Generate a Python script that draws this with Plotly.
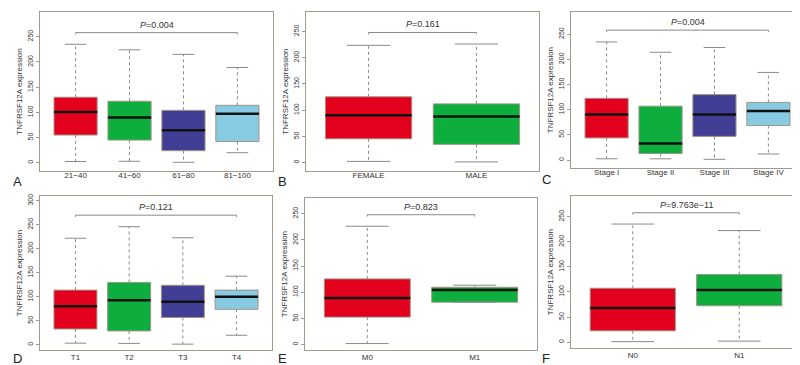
import plotly.graph_objects as go

# ---------------- data ----------------
cats_A = ["21\u221240", "41\u221260", "61\u221280", "81\u2212100"]
upper_A = [235, 224, 215, 189]
q3_A = [130, 122, 104, 114]
med_A = [100.5, 90, 64.5, 97]
q1_A = [55, 45, 24, 42]
lower_A = [2.5, 3, 1, 20]
p_A = "0.004"

cats_B = ["FEMALE", "MALE"]
upper_B = [223.5, 226]
q3_B = [125.5, 112]
med_B = [90.5, 88]
q1_B = [45.5, 35]
lower_B = [2.5, 1.5]
p_B = "0.161"

cats_C = ["Stage I", "Stage II", "Stage III", "Stage IV"]
upper_C = [234.5, 214, 223.5, 174]
q3_C = [122.5, 107, 130, 114.5]
med_C = [90.5, 33, 90.5, 97.5]
q1_C = [44, 13, 47, 68.5]
lower_C = [2.5, 2.5, 1.5, 12]
p_C = "0.004"

cats_D = ["T1", "T2", "T3", "T4"]
upper_D = [222, 246, 223, 143]
q3_D = [114, 130, 124, 114]
med_D = [80.5, 93, 90, 100]
q1_D = [33, 29, 57, 74]
lower_D = [3.5, 3, 1.5, 20]
p_D = "0.121"

cats_E = ["M0", "M1"]
upper_E = [226, 113.5]
q3_E = [125.5, 109.5]
med_E = [89, 104.5]
q1_E = [52.5, 81]
lower_E = [2, 81]
p_E = "0.823"

cats_F = ["N0", "N1"]
upper_F = [235.5, 222.5]
q3_F = [107.5, 135]
med_F = [68, 104]
q1_F = [22.5, 72.5]
lower_F = [1, 2]
p_F = "9.763e\u221211"

y_ticks_250 = [0, 50, 100, 150, 200, 250]
y_ticks_300 = [0, 50, 100, 150, 200, 250, 300]
y_title = "TNFRSF12A expression"
panel_letters = ["A", "B", "C", "D", "E", "F"]

# ---------------- style / layout config ----------------
W, H = 800, 365
fills = ["#E3001C", "#0DAE3E", "#413E95", "#87CBE3"]
frame_col = "#a39a8e"
border_col = "#a09486"
whisk_col = "#8a8a8a"
font_fam = "Liberation Sans, Arial, sans-serif"

panels = [
    dict(c=cats_A, up=upper_A, q3=q3_A, md=med_A, q1=q1_A, lo=lower_A, p=p_A,
         box=(32, 265, 2, 162), yr=(-16.5, 299), yt=y_ticks_250, br=258, let=(9, 172), so=-4),
    dict(c=cats_B, up=upper_B, q3=q3_B, md=med_B, q1=q1_B, lo=lower_B, p=p_B,
         box=(298, 531, 2, 162), yr=(-16, 287), yt=y_ticks_250, br=248, let=(274, 172), so=-4),
    dict(c=cats_C, up=upper_C, q3=q3_C, md=med_C, q1=q1_C, lo=lower_C, p=p_C,
         box=(563, 796, 2, 159), yr=(-16, 294), yt=y_ticks_250, br=258, let=(538, 170), so=-4),
    dict(c=cats_D, up=upper_D, q3=q3_D, md=med_D, q1=q1_D, lo=lower_D, p=p_D,
         box=(32, 264, 187, 342), yr=(-11, 310), yt=y_ticks_300, br=270, let=(9, 350), so=-1),
    dict(c=cats_E, up=upper_E, q3=q3_E, md=med_E, q1=q1_E, lo=lower_E, p=p_E,
         box=(297, 529, 189, 342), yr=(-10.5, 280), yt=y_ticks_250, br=248, let=(274, 350), so=-1),
    dict(c=cats_F, up=upper_F, q3=q3_F, md=med_F, q1=q1_F, lo=lower_F, p=p_F,
         box=(563, 793, 187, 340), yr=(-12, 291.5), yt=y_ticks_250, br=258, let=(538, 350), so=-1),
]

fig = go.Figure()
layout = dict(
    width=W, height=H, margin=dict(l=0, r=0, t=0, b=0),
    paper_bgcolor="white", plot_bgcolor="white", showlegend=False,
    font=dict(family=font_fam, color="#333333"),
)
annotations = []

for k, P in enumerate(panels):
    sfx = "" if k == 0 else str(k + 1)
    xa, ya = "x" + sfx, "y" + sfx
    n = len(P["c"])
    pos = list(range(1, n + 1))
    l, r, t, b = P["box"]
    ext = 0.04 * n
    layout["xaxis" + sfx] = dict(
        domain=[l / W, r / W], anchor=ya, range=[0.5 - ext, n + 0.5 + ext],
        tickvals=pos, ticktext=P["c"], showgrid=False, zeroline=False,
        showline=True, mirror=True, linecolor=frame_col, linewidth=1,
        ticks="", ticklabelstandoff=P["so"],
        tickfont=dict(size=8, color="#333333"), fixedrange=True,
    )
    layout["yaxis" + sfx] = dict(
        domain=[1 - b / H, 1 - t / H], anchor=xa, range=list(P["yr"]),
        tickvals=P["yt"], showgrid=False, zeroline=False,
        showline=True, mirror=True, linecolor=frame_col, linewidth=1,
        ticks="outside", ticklen=3, tickcolor=frame_col, tickangle=-90,
        tickfont=dict(size=7, color="#333333"),
        title=dict(text=y_title, font=dict(size=8, color="#333333"), standoff=3),
    )
    for i in range(n):
        x0 = pos[i]
        col = fills[i % len(fills)]
        fig.add_trace(go.Scatter(
            x=[x0, x0, None, x0, x0], y=[P["q3"][i], P["up"][i], None, P["q1"][i], P["lo"][i]],
            mode="lines", line=dict(color=whisk_col, width=1, dash="dot"),
            xaxis=xa, yaxis=ya, hoverinfo="skip"))
        fig.add_trace(go.Scatter(
            x=[x0 - 0.2, x0 + 0.2, None, x0 - 0.2, x0 + 0.2],
            y=[P["up"][i], P["up"][i], None, P["lo"][i], P["lo"][i]],
            mode="lines", line=dict(color=whisk_col, width=1),
            xaxis=xa, yaxis=ya, hoverinfo="skip"))
        fig.add_trace(go.Box(
            x=[x0], q1=[P["q1"][i]], median=[P["md"][i]], q3=[P["q3"][i]],
            lowerfence=[P["q1"][i]], upperfence=[P["q3"][i]],
            width=0.8, whiskerwidth=0, fillcolor=col,
            line=dict(color=border_col, width=1), boxpoints=False,
            xaxis=xa, yaxis=ya, name=P["c"][i]))
        fig.add_trace(go.Scatter(
            x=[x0 - 0.4, x0 + 0.4], y=[P["md"][i], P["md"][i]],
            mode="lines", line=dict(color="#111111", width=2.5),
            xaxis=xa, yaxis=ya, hoverinfo="skip"))
    bt = P["br"]
    d = 0.012 * (P["yr"][1] - P["yr"][0])
    fig.add_trace(go.Scatter(
        x=[pos[0], pos[0], pos[-1], pos[-1]], y=[bt - d, bt, bt, bt - d],
        mode="lines", line=dict(color=whisk_col, width=1),
        xaxis=xa, yaxis=ya, hoverinfo="skip"))
    annotations.append(dict(
        x=(pos[0] + pos[-1]) / 2, y=bt, xref=xa, yref=ya,
        text="<i>P</i>=" + P["p"], showarrow=False, yanchor="bottom", yshift=1,
        font=dict(size=9, color="#333333")))
    lx, ly = P["let"]
    annotations.append(dict(
        x=lx / W, y=1 - ly / H, xref="paper", yref="paper", text=panel_letters[k],
        showarrow=False, xanchor="center", yanchor="middle",
        font=dict(size=13, color="#222222")))

layout["annotations"] = annotations
fig.update_layout(**layout)
fig.write_html("out.html")
